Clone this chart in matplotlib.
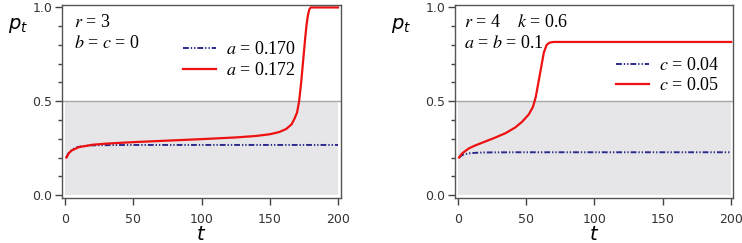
import numpy as np
import matplotlib.pyplot as plt

plt.rcParams['mathtext.fontset'] = 'stix'
plt.rcParams['font.family'] = 'DejaVu Sans'

# panel 1: r = 3, b = c = 0
t_l_blue = [1, 2, 3, 5, 7, 10, 15, 20, 30, 50, 100, 150, 200]
p_l_blue = [0.200, 0.216, 0.228, 0.240, 0.250, 0.257, 0.262, 0.265, 0.266, 0.267, 0.267, 0.267, 0.267]
t_l_red = [1, 3, 5, 10, 20, 30, 50, 75, 100, 125, 140, 150, 157, 162, 166, 168, 170,
           171.5, 173, 174, 175, 176, 177, 178, 179, 180, 190, 200]
p_l_red = [0.200, 0.225, 0.238, 0.255, 0.268, 0.274, 0.282, 0.290, 0.298, 0.307, 0.315,
           0.324, 0.336, 0.352, 0.377, 0.405, 0.44, 0.50, 0.60, 0.68, 0.76, 0.84, 0.91,
           0.96, 0.99, 1.0, 1.0, 1.0]

# panel 2: r = 4, k = 0.6, a = b = 0.1
t_r_blue = [1, 3, 5, 10, 20, 40, 100, 200]
p_r_blue = [0.200, 0.212, 0.218, 0.224, 0.227, 0.228, 0.228, 0.228]
t_r_red = [1, 3, 5, 8, 12, 20, 27, 35, 42, 47, 52, 55, 57, 59, 61, 63, 65, 67, 70, 80, 200]
p_r_red = [0.200, 0.220, 0.232, 0.248, 0.262, 0.285, 0.305, 0.330, 0.360, 0.390, 0.430,
           0.470, 0.520, 0.600, 0.680, 0.760, 0.800, 0.812, 0.816, 0.816, 0.816]

labels_l = ['$a$ = 0.170', '$a$ = 0.172']
labels_r = ['$c$ = 0.04', '$c$ = 0.05']

blue = '#2b2b8c'
red = '#ee1111'
dashdotdot = (0, (3, 1, 0.7, 1, 0.7, 1))
serif = 'Liberation Serif'

fig = plt.figure(figsize=(7.42, 2.43), dpi=100)
ax1 = fig.add_axes([0.0836, 0.185, 0.376, 0.796])
ax2 = fig.add_axes([0.6132, 0.185, 0.375, 0.796])


def style(ax, xl):
    ax.fill_between([0, 200], 0, 0.5, color='#e6e6e8', lw=0, zorder=0)
    ax.axhline(0.5, color='#a8a8a8', lw=1, zorder=1)
    ax.set_xlim(*xl)
    ax.set_ylim(-0.016, 1.015)
    ax.set_xticks([0, 50, 100, 150, 200])
    ax.set_yticks([0, 0.5, 1.0])
    ax.set_yticklabels(['0.0', '0.5', '1.0'])
    ax.set_yticks(np.arange(0, 1.01, 0.1), minor=True)
    ax.tick_params(axis='both', which='major', direction='out', length=5, width=1,
                   color='#444444', labelcolor='#333333', labelsize=9)
    ax.tick_params(axis='x', pad=6)
    ax.tick_params(axis='y', pad=2)
    ax.tick_params(axis='y', which='minor', direction='out', length=3, width=1, color='#444444')
    for s in ax.spines.values():
        s.set_color('#555555')
        s.set_linewidth(1)
    ax.text(0.5, -0.19, '$t$', transform=ax.transAxes, ha='center', va='center',
            fontsize=14, math_fontfamily='dejavusans')


style(ax1, (-2.2, 202.2))
style(ax2, (-2.0, 201.5))

ax1.plot(t_l_blue, p_l_blue, color=blue, lw=1.4, ls=dashdotdot, label=labels_l[0])
ax1.plot(t_l_red, p_l_red, color=red, lw=1.6, label=labels_l[1])
ax2.plot(t_r_blue, p_r_blue, color=blue, lw=1.4, ls=dashdotdot, label=labels_r[0])
ax2.plot(t_r_red, p_r_red, color=red, lw=1.6, label=labels_r[1])

leg_kw = dict(loc='upper left', frameon=False, prop={'family': serif, 'size': 13},
              handlelength=1.8, handletextpad=0.55, borderpad=0, borderaxespad=0,
              labelspacing=0.2)
ax1.legend(bbox_to_anchor=(0.434, 0.81), **leg_kw)
ax2.legend(bbox_to_anchor=(0.579, 0.73), **leg_kw)

txt_kw = dict(fontsize=13, family=serif, va='center')
ax1.text(0.043, 0.905, '$r$ = 3', transform=ax1.transAxes, **txt_kw)
ax1.text(0.043, 0.80, '$b$ = $c$ = 0', transform=ax1.transAxes, **txt_kw)
ax2.text(0.032, 0.905, '$r$ = 4    $k$ = 0.6', transform=ax2.transAxes, **txt_kw)
ax2.text(0.032, 0.80, '$a$ = $b$ = 0.1', transform=ax2.transAxes, **txt_kw)

fig.text(0.011, 0.895, '$p_t$', fontsize=14, va='center', math_fontfamily='dejavusans')
fig.text(0.527, 0.895, '$p_t$', fontsize=14, va='center', math_fontfamily='dejavusans')

fig.savefig('out.png', dpi=100)
